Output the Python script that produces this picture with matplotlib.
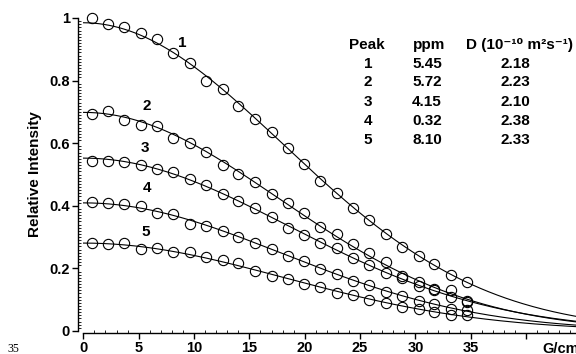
import numpy as np
import matplotlib
matplotlib.use('Agg')
import matplotlib.pyplot as plt
from matplotlib.ticker import MultipleLocator, FuncFormatter

plt.rcParams['font.family'] = ['Liberation Sans', 'DejaVu Sans']
plt.rcParams['font.weight'] = 'bold'

# Gradient strengths (G/cm)
gradient = [0.8, 2.2, 3.7, 5.2, 6.7, 8.1, 9.6, 11.1, 12.6, 14.0, 15.5, 17.0,
            18.5, 19.9, 21.4, 22.9, 24.4, 25.8, 27.3, 28.8, 30.3, 31.7, 33.2, 34.7]

# Relative intensities, one list per peak
peak1 = [0.999, 0.981, 0.970, 0.951, 0.932, 0.887, 0.855, 0.799, 0.772, 0.719, 0.677, 0.637,
         0.586, 0.534, 0.478, 0.441, 0.394, 0.355, 0.310, 0.267, 0.240, 0.215, 0.179, 0.158]
peak2 = [0.693, 0.704, 0.674, 0.658, 0.656, 0.618, 0.602, 0.571, 0.530, 0.502, 0.475, 0.438,
         0.410, 0.376, 0.333, 0.310, 0.277, 0.250, 0.221, 0.176, 0.156, 0.134, 0.130, 0.094]
peak3 = [0.544, 0.544, 0.541, 0.530, 0.518, 0.509, 0.486, 0.466, 0.438, 0.416, 0.392, 0.365,
         0.330, 0.307, 0.282, 0.264, 0.233, 0.212, 0.186, 0.168, 0.145, 0.131, 0.108, 0.097]
peak4 = [0.413, 0.410, 0.406, 0.400, 0.376, 0.374, 0.342, 0.335, 0.320, 0.301, 0.282, 0.261,
         0.240, 0.224, 0.199, 0.183, 0.160, 0.147, 0.126, 0.113, 0.097, 0.087, 0.069, 0.067]
peak5 = [0.282, 0.278, 0.282, 0.262, 0.264, 0.253, 0.253, 0.237, 0.227, 0.216, 0.192, 0.176,
         0.167, 0.150, 0.139, 0.123, 0.114, 0.100, 0.091, 0.078, 0.070, 0.060, 0.051, 0.050]
series = [peak1, peak2, peak3, peak4, peak5]

# where the curve numbers sit (data coords)
label_x = [8.95, 5.75, 5.6, 5.75, 5.6]
label_y = [0.919, 0.718, 0.584, 0.456, 0.315]

# table in the upper right
peak_ids = ['1', '2', '3', '4', '5']
ppm = ['5.45', '5.72', '4.15', '0.32', '8.10']
diff_coef = ['2.18', '2.23', '2.10', '2.38', '2.33']

fig = plt.figure(figsize=(5.76, 3.54), dpi=100)
ax = fig.add_axes([83.3 / 576, 23 / 354, 1 - 83.3 / 576, 313 / 354])

g = np.array(gradient)
g_fine = np.linspace(0, 46, 300)
for y in series:
    y = np.array(y)
    # Stejskal-Tanner type fit: ln I = ln I0 - k g^2
    slope, inter = np.polyfit(g ** 2, np.log(y), 1)
    ax.plot(g_fine, np.exp(inter + slope * g_fine ** 2), color='black', lw=0.8, zorder=2)
    ax.plot(g, y, 'o', ms=7.4, mfc='none', mec='black', mew=0.8, clip_on=False, zorder=3)

for i in range(5):
    ax.text(label_x[i], label_y[i], peak_ids[i], ha='center', va='center',
            fontsize=11, fontweight='bold')

ax.set_xlim(0, 44.5)
ax.set_ylim(0, 1)

ax.spines['top'].set_visible(False)
ax.spines['right'].set_visible(False)
ax.spines['left'].set_position(('outward', 3.6))
ax.spines['bottom'].set_position(('outward', 1.5))
for s in ['left', 'bottom']:
    ax.spines[s].set_linewidth(1.0)

ax.set_xticks(range(0, 45, 5))
ax.set_xticklabels(['0', '5', '10', '15', '20', '25', '30', '35', ''])
ax.xaxis.set_minor_locator(MultipleLocator(1))
ax.yaxis.set_major_locator(MultipleLocator(0.2))
ax.yaxis.set_minor_locator(MultipleLocator(0.01))
ax.yaxis.set_major_formatter(FuncFormatter(lambda v, _: f'{v:g}'))

ax.tick_params(axis='both', which='major', direction='out', length=4, width=1,
               labelsize=10.5, pad=2)
ax.tick_params(axis='both', which='minor', direction='in', length=2, width=0.6)
for lab in ax.get_xticklabels() + ax.get_yticklabels():
    lab.set_fontweight('bold')

ax.set_ylabel('Relative Intensity', fontsize=11, fontweight='bold', labelpad=5)
ax.text(41.5, -0.035, 'G/cm', ha='left', va='top', fontsize=10.5, fontweight='bold',
        clip_on=False)

# table
col_x = [368, 427, 515]
fs = 11
fig.text(367 / 576, 1 - 45 / 354, 'Peak', ha='center', va='center', fontsize=fs, fontweight='bold')
fig.text(429 / 576, 1 - 45 / 354, 'ppm', ha='center', va='center', fontsize=fs, fontweight='bold')
fig.text(466 / 576, 1 - 45 / 354, 'D (10\u207b\u00b9\u2070 m\u00b2s\u207b\u00b9)',
         ha='left', va='center', fontsize=fs, fontweight='bold')
for i in range(5):
    yy = 1 - (63.5 + 19 * i) / 354
    fig.text(col_x[0] / 576, yy, peak_ids[i], ha='center', va='center', fontsize=fs, fontweight='bold')
    fig.text(col_x[1] / 576, yy, ppm[i], ha='center', va='center', fontsize=fs, fontweight='bold')
    fig.text(col_x[2] / 576, yy, diff_coef[i], ha='center', va='center', fontsize=fs, fontweight='bold')

# stray page number in the corner
fig.text(7 / 576, 1 - 349 / 354, '35', ha='left', va='center', fontsize=8.5,
         fontweight='normal', family='Liberation Serif')

fig.savefig('out.png', dpi=100)
